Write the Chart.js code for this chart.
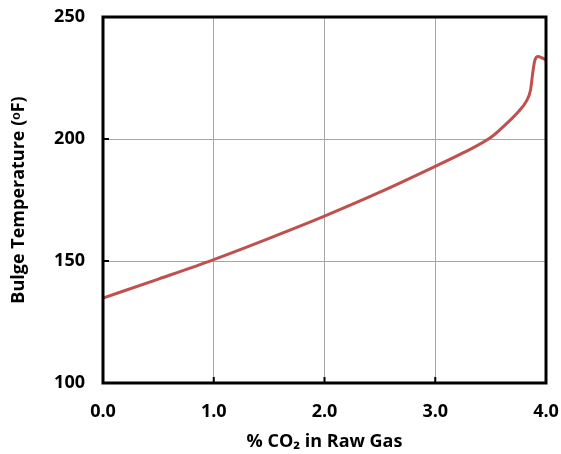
<!DOCTYPE html>
<html>
<head>
<meta charset="utf-8">
<script src="https://cdn.jsdelivr.net/npm/chart.js@4"></script>
<style>
html,body{margin:0;padding:0;background:#fff;}
#wrap{width:561px;height:454px;}
</style>
</head>
<body>
<div id="wrap"><canvas id="c" width="561" height="454"></canvas></div>
<script>
const co2Percent = [0, 0.5, 1.0, 1.5, 2.0, 2.5, 3.0, 3.25, 3.5, 3.65, 3.75, 3.82, 3.86, 3.88, 3.90, 3.93, 3.96, 4.0];
const bulgeTemp  = [134.8, 142.6, 150.6, 159.3, 168.4, 178.2, 188.8, 194.3, 200.6, 206.6, 211.2, 215.3, 220.0, 227.0, 232.4, 233.8, 233.3, 232.4];
const xTicks = [0, 1, 2, 3, 4];
const yTicks = [100, 150, 200, 250];
const xTitle = '% CO\u2082 in Raw Gas';
const yTitle = 'Bulge Temperature (\u1D52F)';

const fontFam = '"Open Sans", "Liberation Sans", sans-serif';

const boxPlugin = {
  id: 'box',
  afterDraw(chart) {
    const {ctx, chartArea: a, scales} = chart;
    ctx.save();
    ctx.strokeStyle = '#000';
    ctx.lineWidth = 2;
    ctx.beginPath();
    xTicks.forEach(v => {
      const px = scales.x.getPixelForValue(v);
      ctx.moveTo(px, a.bottom); ctx.lineTo(px, a.bottom - 6);
    });
    yTicks.forEach(v => {
      const py = scales.y.getPixelForValue(v);
      ctx.moveTo(a.left, py); ctx.lineTo(a.left + 6, py);
    });
    ctx.stroke();
    ctx.lineWidth = 3;
    ctx.strokeRect(a.left, a.top, a.right - a.left, a.bottom - a.top);
    ctx.restore();
  }
};

new Chart(document.getElementById('c'), {
  type: 'line',
  data: {
    datasets: [{
      data: co2Percent.map((x, i) => ({x, y: bulgeTemp[i]})),
      borderColor: '#c0504d',
      borderWidth: 3,
      pointRadius: 0,
      cubicInterpolationMode: 'monotone',
      fill: false
    }]
  },
  options: {
    responsive: false,
    animation: false,
    layout: {autoPadding: false, padding: {top: 17, right: 15, left: 4, bottom: 0}},
    plugins: {legend: {display: false}, tooltip: {enabled: false}},
    scales: {
      x: {
        type: 'linear', min: 0, max: 4,
        afterBuildTicks: s => { s.ticks = xTicks.map(v => ({value: v})); },
        afterFit: s => { s.height = 71; s.paddingLeft = 0; s.paddingRight = 0; },
        grid: {color: '#a6a6a6', lineWidth: 1, drawTicks: false},
        border: {display: false},
        ticks: {color: '#000', padding: 18, font: {family: fontFam, size: 18, weight: 'bold'}, callback: v => v.toFixed(1), maxRotation: 0},
        title: {display: true, text: xTitle, color: '#000', padding: {top: 4, bottom: 1}, font: {family: fontFam, size: 18, weight: 'bold'}}
      },
      y: {
        type: 'linear', min: 100, max: 250,
        afterBuildTicks: s => { s.ticks = yTicks.map(v => ({value: v})); },
        afterFit: s => { s.width = 99; s.paddingTop = 0; s.paddingBottom = 0; },
        grid: {color: '#a6a6a6', lineWidth: 1, drawTicks: false},
        border: {display: false},
        ticks: {color: '#000', padding: 18, font: {family: fontFam, size: 18, weight: 'bold'}},
        title: {display: true, text: yTitle, color: '#000', padding: {top: 4, bottom: 6}, font: {family: fontFam, size: 18, weight: 'bold'}}
      }
    }
  },
  plugins: [boxPlugin]
});
</script>
</body>
</html>
